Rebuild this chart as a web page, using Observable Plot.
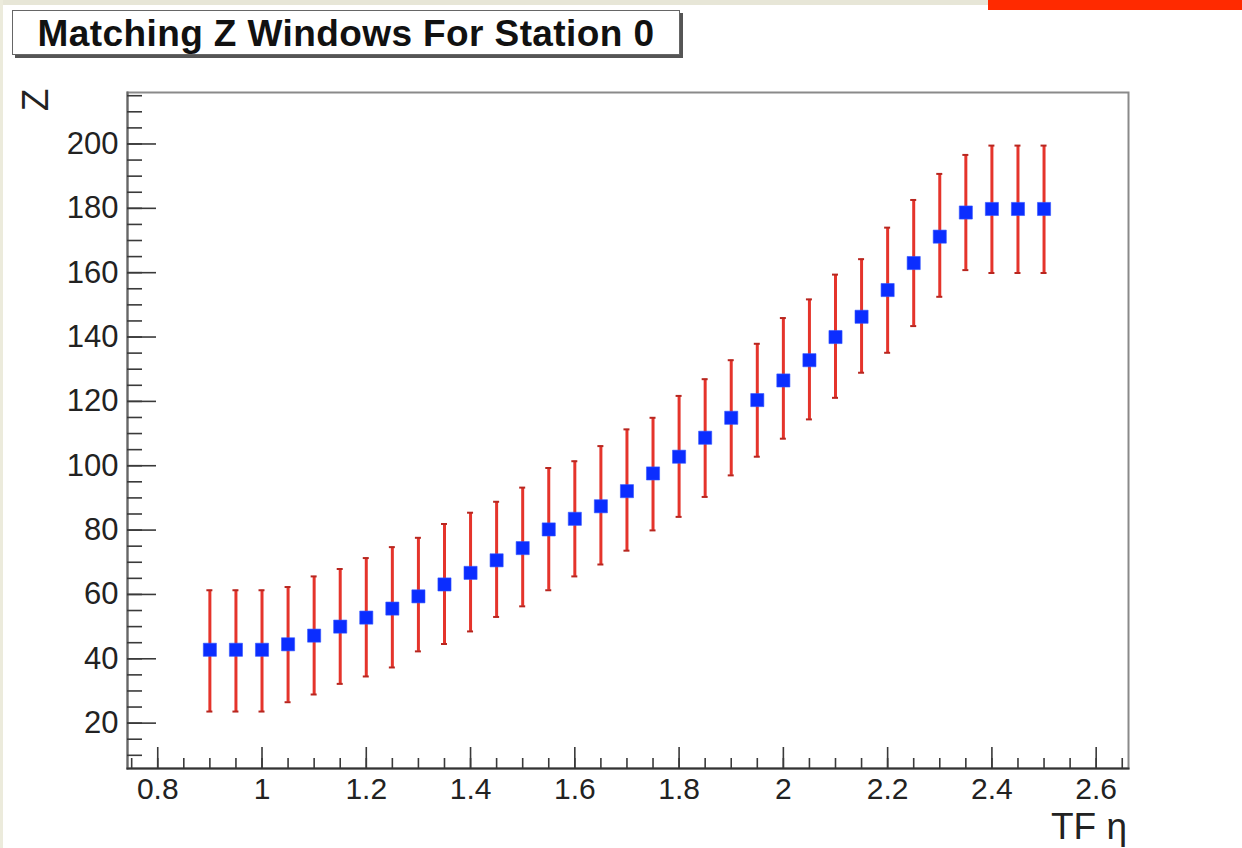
<!DOCTYPE html>
<html>
<head>
<meta charset="utf-8">
<script src="https://cdn.jsdelivr.net/npm/d3@7"></script>
<script src="https://cdn.jsdelivr.net/npm/@observablehq/plot@0.6"></script>
<style>
  html, body { margin: 0; padding: 0; background: #fff; }
  body { width: 1242px; height: 848px; overflow: hidden; position: relative; font-family: "Liberation Sans", Arial, sans-serif; }
  #topstrip { position: absolute; left: 0; top: 0; width: 988px; height: 5px; background: #e7e6d7; }
  #leftstrip { position: absolute; left: 0; top: 0; width: 3px; height: 848px; background: #ecebdc; }
  #redbar { position: absolute; left: 988px; top: 0; width: 254px; height: 10px; background: #ff2a00; }
  #chart { position: absolute; left: 0; top: 0; }
  #title { position: absolute; left: 12px; top: 10px; width: 666px; height: 43px; border: 1.5px solid #666;
           box-shadow: 3px 3px 0 #555; background: #fff; font-weight: bold; font-size: 37px; letter-spacing: 0.4px; color: #111;
           text-align: center; line-height: 45px; white-space: nowrap; }
  #ylab { position: absolute; left: 35px; top: 100px; font-size: 37px; line-height: 1; color: #222;
          transform: translate(-50%, -50%) rotate(-90deg); white-space: nowrap; }
  #xlab { position: absolute; right: 115px; top: 812px; font-size: 37px; line-height: 0.8; color: #222; white-space: nowrap; }
</style>
</head>
<body>
<div id="topstrip"></div>
<div id="leftstrip"></div>
<div id="redbar"></div>
<div id="chart"></div>
<div id="title">Matching Z Windows For Station 0</div>
<div id="ylab">Z</div>
<div id="xlab">TF η</div>
<script>
// ---- data ----
const eta = [0.9, 0.95, 1.0, 1.05, 1.1, 1.15, 1.2, 1.25, 1.3, 1.35, 1.4, 1.45, 1.5, 1.55, 1.6, 1.65, 1.7,
             1.75, 1.8, 1.85, 1.9, 1.95, 2.0, 2.05, 2.1, 2.15, 2.2, 2.25, 2.3, 2.35, 2.4, 2.45, 2.5];
const zCenter = [42.8, 42.8, 42.8, 44.5, 47.2, 50.0, 52.8, 55.6, 59.4, 63.1, 66.7, 70.6, 74.4, 80.2, 83.5, 87.4, 92.1,
                 97.6, 102.8, 108.7, 114.9, 120.4, 126.5, 132.8, 140.0, 146.3, 154.6, 163.0, 171.2, 178.7, 179.8, 179.8, 179.8];
const zLow = [23.6, 23.6, 23.6, 26.5, 28.9, 32.2, 34.5, 37.3, 42.3, 44.6, 48.5, 53.0, 56.3, 61.3, 65.6, 69.3, 73.6,
              79.9, 84.1, 90.3, 97.0, 102.8, 108.4, 114.4, 121.1, 128.9, 135.1, 143.4, 152.5, 160.8, 159.9, 159.9, 159.9];
const zHigh = [61.3, 61.3, 61.3, 62.3, 65.6, 67.9, 71.3, 74.7, 77.6, 81.9, 85.4, 88.8, 93.2, 99.3, 101.4, 106.1, 111.3,
               114.9, 121.7, 126.9, 132.8, 137.9, 145.9, 151.7, 159.4, 164.2, 174.0, 182.6, 190.7, 196.6, 199.5, 199.5, 199.5];

const xMajorTicks = [0.8, 1.0, 1.2, 1.4, 1.6, 1.8, 2.0, 2.2, 2.4, 2.6];
const xTickLabels = ["0.8", "1", "1.2", "1.4", "1.6", "1.8", "2", "2.2", "2.4", "2.6"];
const yMajorTicks = [20, 40, 60, 80, 100, 120, 140, 160, 180, 200];
const yTickLabels = ["20", "40", "60", "80", "100", "120", "140", "160", "180", "200"];
const xMinorTicks = d3.range(15, 54).map(k => +(k * 0.05).toFixed(2));
const yMinorTicks = d3.range(2, 44).map(k => k * 5);

const points = eta.map((e, i) => ({eta: e, z: zCenter[i], lo: zLow[i], hi: zHigh[i]}));

const tickColor = "#3a3a3a";
const chart = Plot.plot({
  width: 1242,
  height: 848,
  marginLeft: 127,
  marginRight: 114,
  marginTop: 92,
  marginBottom: 80,
  style: {fontFamily: "'Liberation Sans', Arial, sans-serif", background: "transparent", color: "#222"},
  x: {domain: [0.742, 2.662], label: null},
  y: {domain: [5.9, 216], label: null},
  marks: [
    Plot.frame({stroke: "#8a8a8a", strokeWidth: 2}),
    Plot.frame({anchor: "left", stroke: "#666", strokeWidth: 2}),
    Plot.frame({anchor: "bottom", stroke: "#333", strokeWidth: 2}),
    // y ticks (inward)
    Plot.axisY(yMinorTicks, {tickSize: 15, dx: 15, text: null, stroke: tickColor, strokeWidth: 1.6}),
    Plot.axisY(yMajorTicks, {tickSize: 29, dx: 29, text: null, stroke: tickColor, strokeWidth: 1.6}),
    Plot.axisY(yMajorTicks, {tickSize: 0, tickPadding: 9, fontSize: 31, fill: "#222",
      tickFormat: d => yTickLabels[yMajorTicks.indexOf(d)]}),
    // x ticks (inward)
    Plot.axisX(xMinorTicks, {tickSize: 10, dy: -10, text: null, stroke: tickColor, strokeWidth: 1.6}),
    Plot.axisX(xMajorTicks, {tickSize: 21, dy: -21, text: null, stroke: tickColor, strokeWidth: 1.6}),
    Plot.axisX(xMajorTicks, {tickSize: 0, tickPadding: 9, fontSize: 30, fill: "#222",
      tickFormat: d => xTickLabels[xMajorTicks.indexOf(d)]}),
    // error bars
    Plot.ruleX(points, {x: "eta", y1: "lo", y2: "hi", stroke: "#e5342b", strokeWidth: 3}),
    Plot.ruleY(points, {y: "lo", x1: "eta", x2: "eta", insetLeft: -3, insetRight: -3, stroke: "#b8261f", strokeWidth: 2}),
    Plot.ruleY(points, {y: "hi", x1: "eta", x2: "eta", insetLeft: -3, insetRight: -3, stroke: "#b8261f", strokeWidth: 2}),
    // markers
    Plot.dot(points, {x: "eta", y: "z", symbol: "square", r: 7.4, fill: "#0b2dff", stroke: "#3355ff", strokeWidth: 0.6})
  ]
});
document.getElementById("chart").appendChild(chart);
</script>
</body>
</html>
